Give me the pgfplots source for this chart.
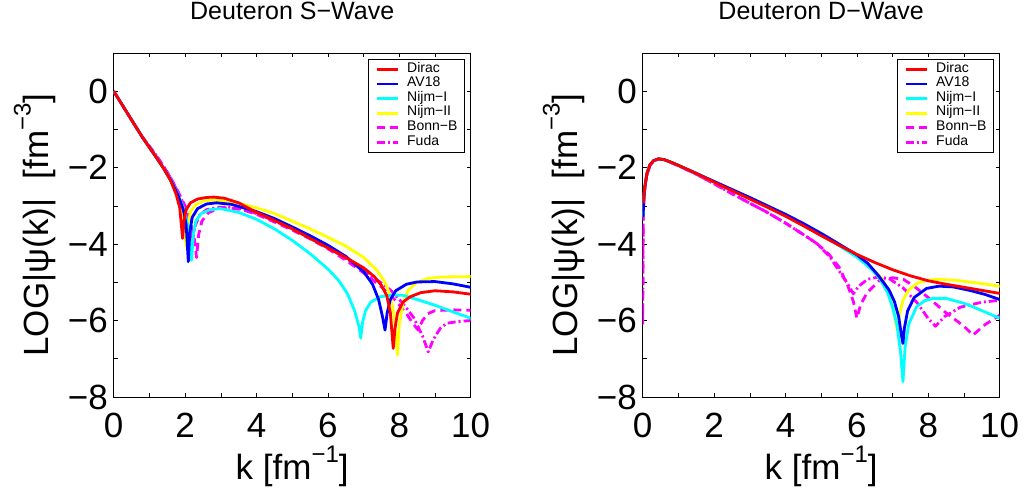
\documentclass[border=0pt]{standalone}
\usepackage{fontspec}
\setmainfont{Liberation Sans}
\usepackage{pgfplots}
\pgfplotsset{compat=1.18}
\definecolor{mred}{RGB}{255,0,0}
\definecolor{mblue}{RGB}{0,0,255}
\definecolor{mcyan}{RGB}{0,255,255}
\definecolor{myellow}{RGB}{255,255,0}
\definecolor{mmag}{RGB}{255,0,255}
\newcommand\tickfont{\fontsize{35}{35}\selectfont}
\newcommand\titlefont{\fontsize{25}{25}\selectfont}
\newcommand\legfont{\fontsize{14}{14}\selectfont}
\newcommand\mysup[1]{\raisebox{0.5em}{\fontsize{24}{24}\selectfont #1}}
\pgfplotsset{
 myaxis/.style={
  scale only axis, width=357pt, height=344pt,
  xmin=0, xmax=10, ymin=-8, ymax=1,
  xtick={0,...,10}, xticklabels={0,,2,,4,,6,,8,,10},
  ytick={-8,...,0}, yticklabels={−8,,−6,,−4,,−2,,0},
  tick align=inside, tick pos=both, major tick length=4pt,
  every tick/.style={black, line width=0.6pt},
  axis line style={line width=0.8pt},
  ticklabel style={font=\tickfont, inner sep=0pt},
  xticklabel style={yshift=-16pt},
  yticklabel style={xshift=-5.7pt},
  title style={at={(axis description cs:0.5,1)}, anchor=base, yshift=27pt, font=\titlefont, inner sep=0pt},
  xlabel style={at={(axis description cs:0.5,0)}, anchor=base, yshift=-83pt, font=\tickfont, inner sep=0pt},
  ylabel style={at={([xshift=-58pt]axis description cs:0,0.5)}, anchor=south, font=\tickfont, inner sep=0pt},
  xlabel={k [fm\mysup{−1}]},
  ylabel={LOG|ψ(k)|\ \ [fm\mysup{−3}]},
  legend style={at={(axis description cs:1,1)}, anchor=north east, xshift=-6.4pt, yshift=-6.3pt,
    draw=black, line width=0.8pt, fill=white, inner xsep=6.5pt, inner ysep=2.4pt,
    font=\legfont, row sep=0pt,
    nodes={inner sep=0pt, text height=10pt, text depth=4.6pt, anchor=west},
    /tikz/every odd column/.append style={column sep=7.4pt}},
  reverse legend,
  legend image code/.code={\draw[##1] (0pt,0pt) -- (21.7pt,0pt);},
 },
 cD/.style={mred, line width=2.8pt, line join=round},
 cA/.style={mblue, line width=2.8pt, line join=round},
 cN1/.style={mcyan, line width=2.8pt, line join=round},
 cN2/.style={myellow, line width=2.8pt, line join=round},
 cB/.style={mmag, line width=2.8pt, line join=round, dash pattern=on 8pt off 5pt},
 cF/.style={mmag, line width=2.8pt, line join=round, dash pattern=on 8pt off 3pt on 2pt off 3pt},
}
\begin{document}
\begin{tikzpicture}
\path[use as bounding box] (0,0) rectangle (1026pt,495pt);
% ---------------- S-wave
\begin{axis}[myaxis, at={(113.7pt,98pt)}, anchor=south west, title={Deuteron S−Wave}]
\addplot[cF] coordinates {(0,0)(0.2,-0.3)(0.4,-0.6)(0.6,-0.9)(0.8,-1.19)(1.0,-1.44)(1.2,-1.69)(1.4,-1.97)(1.6,-2.28)(1.8,-2.64)(2.0,-3.05)(2.12,-3.5)(2.2,-4.0)(2.27,-3.55)(2.4,-3.25)(2.6,-3.1)(2.9,-3.04)(3.2,-3.03)(3.6,-3.08)(4,-3.2)(4.5,-3.39)(5,-3.6)(5.5,-3.83)(6,-4.08)(6.5,-4.38)(7,-4.7)(7.5,-5.02)(7.75,-5.2)(8.1,-5.55)(8.4,-5.92)(8.65,-6.4)(8.81,-6.82)(8.95,-6.5)(9.15,-6.2)(9.33,-6.07)(9.7,-6.02)(10,-6.0)};
\addlegendentry{Fuda}
\addplot[cB] coordinates {(0,0)(0.2,-0.3)(0.4,-0.6)(0.6,-0.9)(0.8,-1.19)(1.0,-1.44)(1.2,-1.7)(1.4,-1.97)(1.6,-2.27)(1.8,-2.62)(2.0,-3.0)(2.15,-3.4)(2.25,-3.8)(2.32,-4.35)(2.38,-3.75)(2.47,-3.4)(2.65,-3.18)(2.9,-3.08)(3.2,-3.05)(3.6,-3.1)(4,-3.22)(4.5,-3.42)(5,-3.63)(5.5,-3.86)(6,-4.12)(6.5,-4.42)(7,-4.75)(7.5,-5.12)(7.9,-5.48)(8.2,-5.82)(8.4,-6.1)(8.53,-6.25)(8.65,-6.0)(8.8,-5.82)(9,-5.74)(9.5,-5.72)(10,-5.73)};
\addlegendentry{Bonn−B}
\addplot[cN2] coordinates {(0,0)(0.2,-0.3)(0.4,-0.6)(0.6,-0.9)(0.8,-1.2)(1.0,-1.47)(1.2,-1.74)(1.4,-2.02)(1.6,-2.33)(1.8,-2.75)(1.92,-3.15)(1.98,-3.5)(2.03,-4.07)(2.08,-3.5)(2.15,-3.15)(2.3,-2.97)(2.5,-2.88)(2.7,-2.85)(3,-2.86)(3.5,-2.93)(4,-3.05)(4.5,-3.2)(5,-3.4)(5.5,-3.6)(6,-3.82)(6.5,-4.05)(7,-4.35)(7.37,-4.68)(7.6,-5.0)(7.75,-5.35)(7.85,-5.85)(7.95,-6.9)(8.0,-6.1)(8.1,-5.55)(8.25,-5.2)(8.5,-5.0)(8.8,-4.9)(9.2,-4.86)(10,-4.85)};
\addlegendentry{Nijm−II}
\addplot[cN1] coordinates {(0,0)(0.2,-0.3)(0.4,-0.6)(0.6,-0.9)(0.8,-1.2)(1.0,-1.47)(1.2,-1.74)(1.4,-2.02)(1.6,-2.32)(1.8,-2.7)(1.97,-3.1)(2.1,-3.6)(2.18,-4.42)(2.23,-3.75)(2.3,-3.4)(2.45,-3.2)(2.7,-3.1)(2.98,-3.07)(3.5,-3.17)(4,-3.35)(4.5,-3.6)(5,-3.9)(5.5,-4.25)(6,-4.65)(6.3,-4.95)(6.55,-5.3)(6.75,-5.75)(6.87,-6.15)(6.92,-6.46)(6.97,-6.05)(7.05,-5.75)(7.2,-5.52)(7.46,-5.38)(7.8,-5.33)(8.1,-5.34)(8.5,-5.45)(9,-5.6)(9.5,-5.77)(10,-5.94)};
\addlegendentry{Nijm−I}
\addplot[cA] coordinates {(0,0)(0.2,-0.3)(0.4,-0.6)(0.6,-0.9)(0.8,-1.2)(1.0,-1.47)(1.2,-1.74)(1.4,-2.02)(1.6,-2.33)(1.8,-2.72)(1.95,-3.1)(2.03,-3.5)(2.09,-4.46)(2.13,-3.7)(2.2,-3.3)(2.35,-3.07)(2.6,-2.95)(2.88,-2.92)(3.3,-2.96)(4,-3.15)(4.5,-3.33)(5,-3.55)(5.5,-3.78)(6,-4.03)(6.5,-4.32)(7,-4.72)(7.25,-5.05)(7.42,-5.45)(7.53,-5.9)(7.6,-6.25)(7.66,-5.8)(7.75,-5.45)(7.9,-5.22)(8.2,-5.05)(8.5,-4.99)(9,-4.98)(9.5,-5.04)(10,-5.13)};
\addlegendentry{AV18}
\addplot[cD] coordinates {(0,0)(0.2,-0.3)(0.4,-0.6)(0.6,-0.9)(0.8,-1.2)(1.0,-1.47)(1.2,-1.74)(1.4,-2.02)(1.6,-2.35)(1.75,-2.7)(1.85,-3.05)(1.93,-3.85)(1.97,-3.4)(2.03,-3.1)(2.15,-2.92)(2.35,-2.82)(2.6,-2.78)(2.8,-2.77)(3.1,-2.8)(3.5,-2.92)(4,-3.17)(4.5,-3.38)(5,-3.6)(5.5,-3.85)(6,-4.1)(6.5,-4.35)(7,-4.62)(7.3,-4.85)(7.5,-5.08)(7.65,-5.35)(7.75,-5.8)(7.83,-6.73)(7.88,-6.2)(7.95,-5.8)(8.1,-5.52)(8.3,-5.38)(8.6,-5.27)(9,-5.22)(9.5,-5.25)(10,-5.31)};
\addlegendentry{Dirac}
\end{axis}
% ---------------- D-wave
\begin{axis}[myaxis, at={(642.7pt,98pt)}, anchor=south west, title={Deuteron D−Wave}]
\addplot[cF] coordinates {(0,-5.9)(0.015,-3.2)(0.04,-2.7)(0.1,-2.25)(0.2,-1.95)(0.3,-1.83)(0.44,-1.77)(0.6,-1.79)(1,-1.95)(1.5,-2.17)(2,-2.42)(2.5,-2.68)(3,-2.93)(3.47,-3.16)(4,-3.45)(4.5,-3.75)(4.87,-3.98)(5.24,-4.33)(5.5,-4.7)(5.75,-5.05)(5.9,-5.3)(6.05,-5.1)(6.3,-4.92)(6.6,-4.86)(6.9,-4.9)(7.3,-5.15)(7.7,-5.55)(8.0,-5.95)(8.2,-6.15)(8.45,-5.9)(8.9,-5.65)(9.5,-5.52)(10,-5.47)};
\addlegendentry{Fuda}
\addplot[cB] coordinates {(0,-6.1)(0.015,-3.2)(0.04,-2.7)(0.1,-2.25)(0.2,-1.95)(0.3,-1.83)(0.44,-1.77)(0.6,-1.79)(1,-1.95)(1.5,-2.17)(2,-2.42)(2.5,-2.68)(3,-2.93)(3.47,-3.16)(4,-3.45)(4.5,-3.75)(4.87,-3.98)(5.2,-4.25)(5.5,-4.6)(5.75,-5.1)(5.9,-5.5)(6.0,-5.94)(6.1,-5.6)(6.27,-5.29)(6.64,-4.94)(7.0,-4.88)(7.3,-4.92)(7.6,-5.1)(8.0,-5.4)(8.5,-5.8)(9.0,-6.15)(9.25,-6.38)(9.6,-6.1)(10,-5.86)};
\addlegendentry{Bonn−B}
\addplot[cN2] coordinates {(0.01,-3.3)(0.03,-2.85)(0.06,-2.5)(0.12,-2.15)(0.2,-1.93)(0.3,-1.82)(0.44,-1.77)(0.6,-1.79)(0.8,-1.86)(1,-1.94)(1.5,-2.15)(2,-2.37)(2.5,-2.58)(3,-2.79)(3.5,-3.01)(4,-3.23)(4.5,-3.47)(5,-3.73)(5.5,-4.01)(6,-4.3)(6.4,-4.6)(6.7,-4.9)(6.83,-5.12)(6.95,-5.45)(7.05,-5.85)(7.13,-6.25)(7.2,-5.8)(7.3,-5.45)(7.45,-5.2)(7.7,-5.02)(8,-4.94)(8.32,-4.92)(8.8,-4.95)(9.4,-5.02)(10,-5.1)};
\addlegendentry{Nijm−II}
\addplot[cN1] coordinates {(0.01,-3.3)(0.03,-2.85)(0.06,-2.5)(0.12,-2.15)(0.2,-1.93)(0.3,-1.82)(0.44,-1.77)(0.6,-1.79)(0.8,-1.86)(1,-1.94)(1.5,-2.15)(2,-2.37)(2.5,-2.59)(3,-2.8)(3.5,-3.02)(4,-3.25)(4.5,-3.5)(5,-3.76)(5.5,-4.04)(6,-4.34)(6.4,-4.65)(6.64,-4.9)(6.85,-5.25)(7.0,-5.65)(7.12,-6.1)(7.22,-6.8)(7.29,-7.6)(7.35,-6.7)(7.45,-6.1)(7.67,-5.64)(7.9,-5.48)(8.13,-5.42)(8.5,-5.42)(9,-5.55)(9.25,-5.64)(9.6,-5.78)(10,-5.94)};
\addlegendentry{Nijm−I}
\addplot[cA] coordinates {(0.01,-3.3)(0.03,-2.85)(0.06,-2.5)(0.12,-2.15)(0.2,-1.93)(0.3,-1.82)(0.44,-1.77)(0.6,-1.79)(0.8,-1.86)(1,-1.94)(1.5,-2.15)(2,-2.36)(2.5,-2.57)(3,-2.78)(3.5,-3.0)(4,-3.22)(4.5,-3.46)(5,-3.72)(5.5,-4.0)(6,-4.28)(6.3,-4.5)(6.6,-4.82)(6.9,-5.2)(7.05,-5.5)(7.17,-5.9)(7.25,-6.4)(7.29,-6.6)(7.33,-6.2)(7.42,-5.75)(7.6,-5.4)(7.95,-5.16)(8.3,-5.1)(8.7,-5.12)(9.2,-5.22)(9.6,-5.32)(10,-5.45)};
\addlegendentry{AV18}
\addplot[cD] coordinates {(0.02,-2.93)(0.06,-2.5)(0.12,-2.15)(0.2,-1.93)(0.3,-1.82)(0.44,-1.77)(0.6,-1.79)(0.8,-1.86)(1,-1.94)(1.5,-2.15)(2,-2.38)(2.5,-2.6)(3,-2.82)(3.5,-3.04)(4,-3.27)(4.5,-3.52)(5,-3.78)(5.5,-4.03)(6,-4.27)(6.5,-4.48)(7,-4.67)(7.5,-4.83)(8,-4.96)(8.5,-5.05)(9,-5.13)(9.5,-5.21)(10,-5.29)};
\addlegendentry{Dirac}
\end{axis}
\end{tikzpicture}
\end{document}
